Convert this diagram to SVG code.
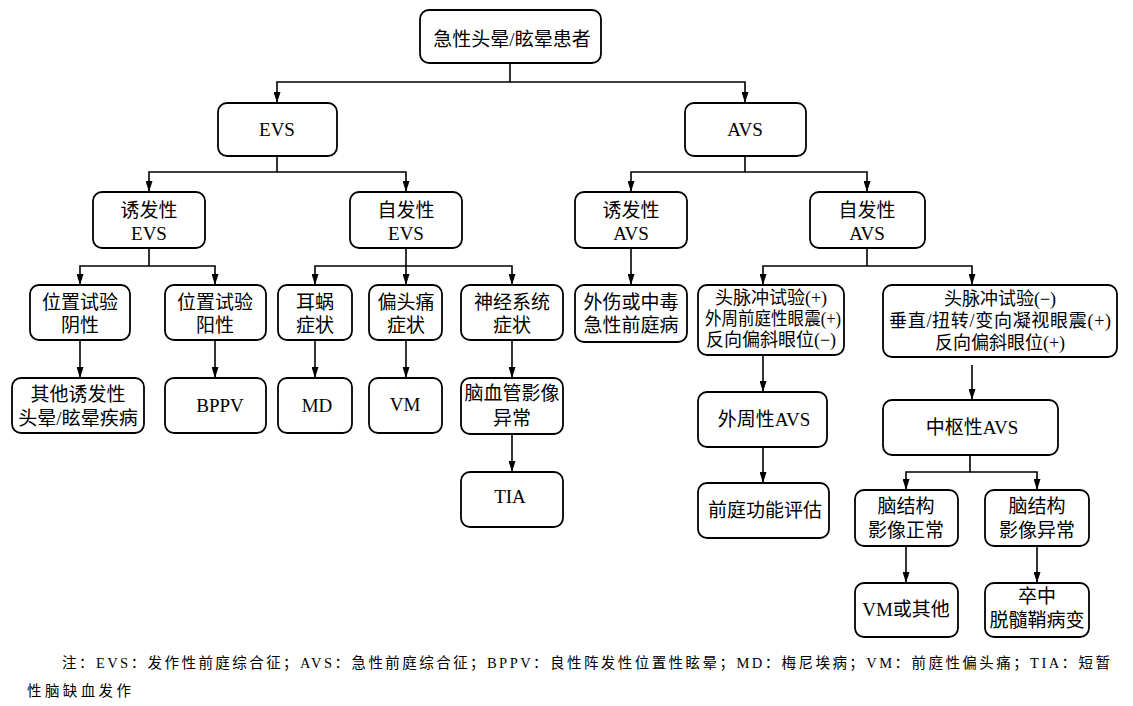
<svg xmlns="http://www.w3.org/2000/svg" width="1133" height="706" viewBox="0 0 1133 706">
<style>
.b{fill:#fff;stroke:#000;stroke-width:1.8}
.t{font-family:"Liberation Serif","Noto Sans CJK SC",serif;font-size:19px;fill:#000;text-anchor:middle}
.s{font-size:18px}
.c{fill:none;stroke:#000;stroke-width:1.6}
.n{font-family:"Liberation Serif","Noto Sans CJK SC",serif;font-size:14.5px;fill:#000}
</style>
<defs>
<marker id="ah" viewBox="0 0 11 7" refX="11" refY="3.5" markerWidth="11" markerHeight="7" orient="auto" markerUnits="userSpaceOnUse"><path d="M0,0 L11,3.5 L0,7 z" fill="#000"/></marker>
</defs>
<rect width="1133" height="706" fill="#fff"/>
<g id="connectors">
<path class="c" d="M510,63 V82 H277 V103" marker-end="url(#ah)"/>
<path class="c" d="M510,82 H745 V103" marker-end="url(#ah)"/>
<path class="c" d="M277,156 V172 H149 V192" marker-end="url(#ah)"/>
<path class="c" d="M277,172 H406 V192" marker-end="url(#ah)"/>
<path class="c" d="M745,156 V172 H631 V192" marker-end="url(#ah)"/>
<path class="c" d="M745,172 H867 V192" marker-end="url(#ah)"/>
<path class="c" d="M149,248 V266 H80 V285" marker-end="url(#ah)"/>
<path class="c" d="M149,266 H215 V285" marker-end="url(#ah)"/>
<path class="c" d="M406,248 V266 H315 V285" marker-end="url(#ah)"/>
<path class="c" d="M406,266 V285" marker-end="url(#ah)"/>
<path class="c" d="M406,266 H512 V285" marker-end="url(#ah)"/>
<path class="c" d="M631,248 V285" marker-end="url(#ah)"/>
<path class="c" d="M867,248 V266 H763 V285" marker-end="url(#ah)"/>
<path class="c" d="M867,266 H972 V285" marker-end="url(#ah)"/>
<path class="c" d="M80,340 V378" marker-end="url(#ah)"/>
<path class="c" d="M215,340 V378" marker-end="url(#ah)"/>
<path class="c" d="M315,340 V378" marker-end="url(#ah)"/>
<path class="c" d="M406,340 V378" marker-end="url(#ah)"/>
<path class="c" d="M512,340 V378" marker-end="url(#ah)"/>
<path class="c" d="M512,434 V472" marker-end="url(#ah)"/>
<path class="c" d="M763,355 V392" marker-end="url(#ah)"/>
<path class="c" d="M763,447 V483" marker-end="url(#ah)"/>
<path class="c" d="M972,365 V400" marker-end="url(#ah)"/>
<path class="c" d="M970,455 V472 H906 V490" marker-end="url(#ah)"/>
<path class="c" d="M970,472 H1037 V490" marker-end="url(#ah)"/>
<path class="c" d="M906,546 V583" marker-end="url(#ah)"/>
<path class="c" d="M1037,546 V583" marker-end="url(#ah)"/>
</g>
<g id="n_root"><rect class="b" x="420" y="10" width="181" height="53" rx="9"/><text class="t" x="512" y="46">急性头晕/眩晕患者</text></g>
<g id="n_evs"><rect class="b" x="218" y="103" width="119" height="53" rx="9"/><text class="t" x="277" y="136">EVS</text></g>
<g id="n_avs"><rect class="b" x="685" y="103" width="121" height="53" rx="9"/><text class="t" x="745" y="136">AVS</text></g>
<g id="n_evs_ind"><rect class="b" x="93" y="192" width="112" height="56" rx="9"/><text class="t" x="149" y="217">诱发性</text><text class="t" x="149" y="240">EVS</text></g>
<g id="n_evs_spo"><rect class="b" x="350" y="192" width="112" height="56" rx="9"/><text class="t" x="406" y="217">自发性</text><text class="t" x="406" y="240">EVS</text></g>
<g id="n_avs_ind"><rect class="b" x="575" y="192" width="112" height="56" rx="9"/><text class="t" x="631" y="217">诱发性</text><text class="t" x="631" y="240">AVS</text></g>
<g id="n_avs_spo"><rect class="b" x="810" y="192" width="115" height="56" rx="9"/><text class="t" x="867" y="217">自发性</text><text class="t" x="867" y="240">AVS</text></g>
<g id="n_pos_neg"><rect class="b" x="30" y="285" width="100" height="55" rx="9"/><text class="t" x="80" y="309">位置试验</text><text class="t" x="80" y="332">阴性</text></g>
<g id="n_pos_pos"><rect class="b" x="165" y="285" width="101" height="55" rx="9"/><text class="t" x="215" y="309">位置试验</text><text class="t" x="215" y="332">阳性</text></g>
<g id="n_cochlea"><rect class="b" x="278" y="285" width="74" height="55" rx="9"/><text class="t" x="315" y="309">耳蜗</text><text class="t" x="315" y="332">症状</text></g>
<g id="n_migraine"><rect class="b" x="369" y="285" width="73" height="55" rx="9"/><text class="t" x="406" y="309">偏头痛</text><text class="t" x="406" y="332">症状</text></g>
<g id="n_neuro"><rect class="b" x="461" y="285" width="102" height="55" rx="9"/><text class="t" x="512" y="309">神经系统</text><text class="t" x="512" y="332">症状</text></g>
<g id="n_trauma"><rect class="b" x="575" y="285" width="112" height="57" rx="9"/><text class="t" x="631" y="309">外伤或中毒</text><text class="t" x="631" y="332">急性前庭病</text></g>
<g id="n_hit_pos"><rect class="b" x="698" y="285" width="146" height="70" rx="9"/><text class="t s" x="771" y="304">头脉冲试验(+)</text><text class="t s" x="773" y="325" textLength="136" lengthAdjust="spacingAndGlyphs">外周前庭性眼震(+)</text><text class="t s" x="771" y="346">反向偏斜眼位(−)</text></g>
<g id="n_hit_neg"><rect class="b" x="883" y="285" width="234" height="72" rx="9"/><text class="t s" x="1000" y="305">头脉冲试验(−)</text><text class="t s" x="1000" y="327" textLength="222" lengthAdjust="spacing">垂直/扭转/变向凝视眼震(+)</text><text class="t s" x="1000" y="349">反向偏斜眼位(+)</text></g>
<g id="n_other"><rect class="b" x="12" y="378" width="132" height="55" rx="9"/><text class="t" x="78" y="401">其他诱发性</text><text class="t" x="78" y="425">头晕/眩晕疾病</text></g>
<g id="n_bppv"><rect class="b" x="165" y="378" width="101" height="55" rx="9"/><text class="t" x="220" y="412">BPPV</text></g>
<g id="n_md"><rect class="b" x="278" y="378" width="74" height="55" rx="9"/><text class="t" x="317" y="412">MD</text></g>
<g id="n_vm"><rect class="b" x="369" y="378" width="73" height="55" rx="9"/><text class="t" x="405" y="411">VM</text></g>
<g id="n_cva"><rect class="b" x="461" y="378" width="102" height="56" rx="9"/><text class="t" x="512" y="400">脑血管影像</text><text class="t" x="512" y="425">异常</text></g>
<g id="n_tia"><rect class="b" x="461" y="472" width="102" height="55" rx="9"/><text class="t" x="510" y="503">TIA</text></g>
<g id="n_periph"><rect class="b" x="698" y="392" width="129" height="55" rx="9"/><text class="t" x="764" y="426">外周性AVS</text></g>
<g id="n_vest"><rect class="b" x="698" y="483" width="131" height="55" rx="9"/><text class="t" x="765" y="517">前庭功能评估</text></g>
<g id="n_central"><rect class="b" x="883" y="400" width="175" height="55" rx="9"/><text class="t" x="972" y="434">中枢性AVS</text></g>
<g id="n_normal"><rect class="b" x="855" y="490" width="103" height="56" rx="9"/><text class="t" x="906" y="513">脑结构</text><text class="t" x="906" y="537">影像正常</text></g>
<g id="n_abn"><rect class="b" x="985" y="490" width="104" height="56" rx="9"/><text class="t" x="1037" y="513">脑结构</text><text class="t" x="1037" y="537">影像异常</text></g>
<g id="n_vmo"><rect class="b" x="855" y="583" width="103" height="54" rx="9"/><text class="t" x="906" y="616">VM或其他</text></g>
<g id="n_stroke"><rect class="b" x="985" y="583" width="104" height="54" rx="9"/><text class="t" x="1037" y="603">卒中</text><text class="t" x="1037" y="627">脱髓鞘病变</text></g>
<g id="note">
<text class="n" x="62" y="668" textLength="1048" lengthAdjust="spacing">注：EVS：发作性前庭综合征；AVS：急性前庭综合征；BPPV：良性阵发性位置性眩晕；MD：梅尼埃病；VM：前庭性偏头痛；TIA：短暂</text>
<text class="n" x="27" y="696" textLength="104" lengthAdjust="spacing">性脑缺血发作</text>
</g>
</svg>
